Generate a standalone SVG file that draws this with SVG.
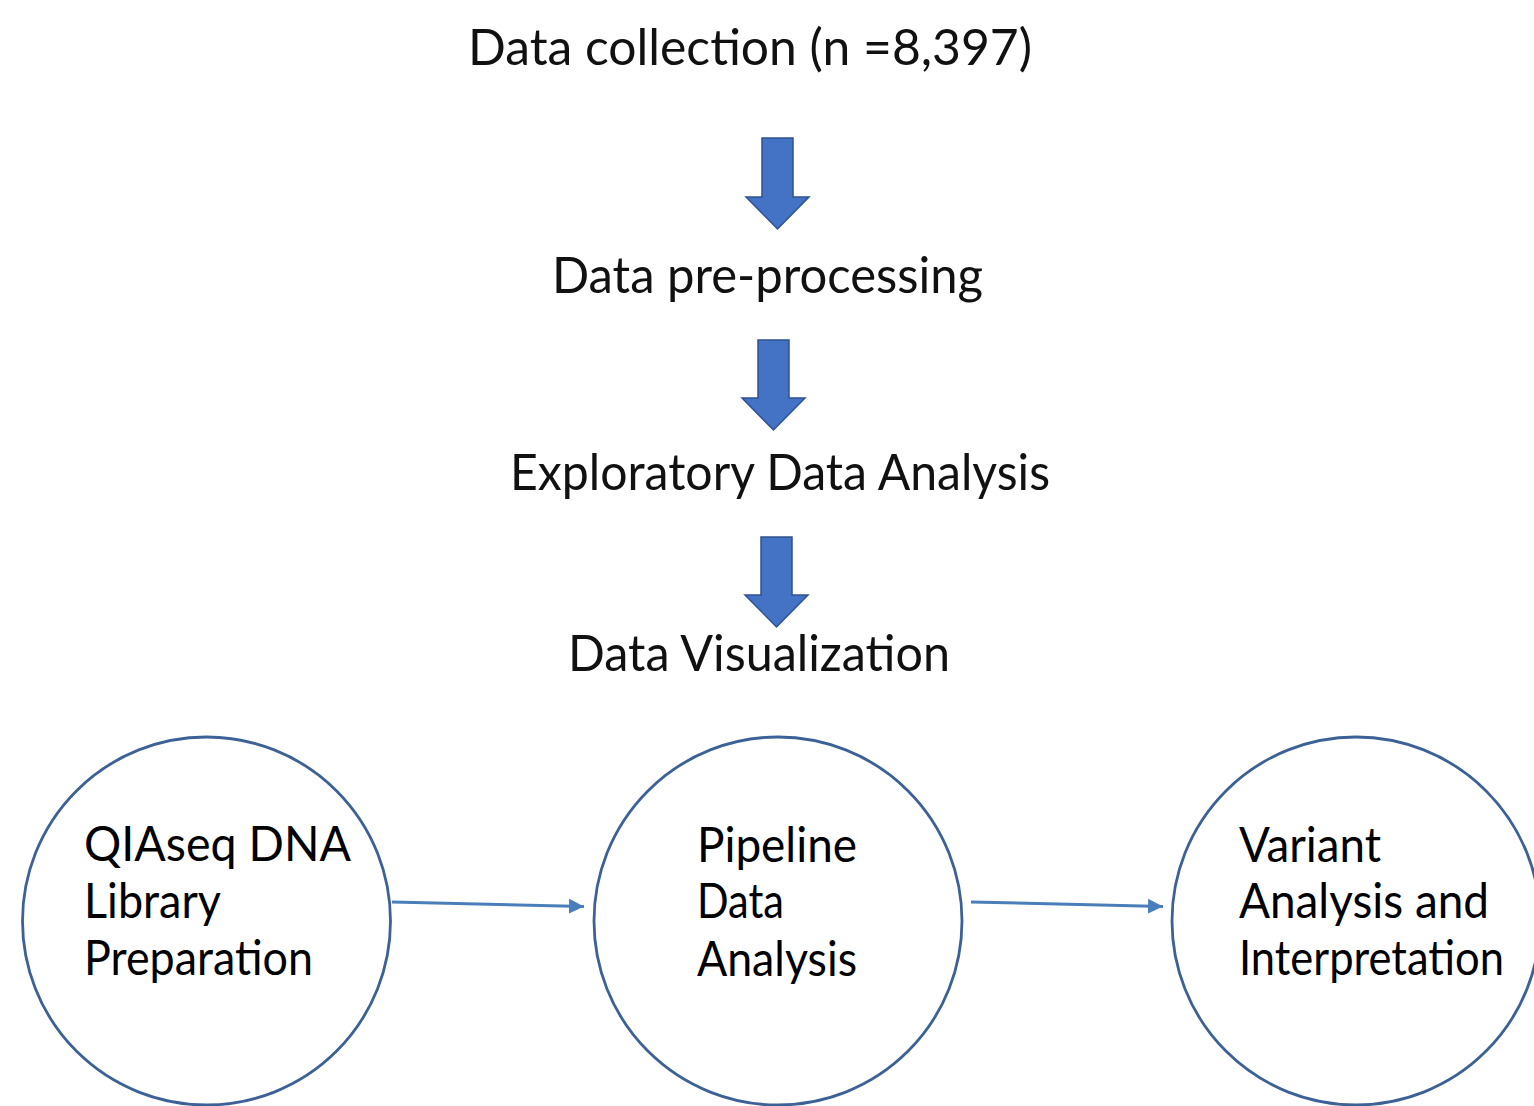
<svg xmlns="http://www.w3.org/2000/svg" width="1534" height="1106" viewBox="0 0 1534 1106">
  <style>
    .step { font-family: "Lato", "Noto Sans", "Liberation Sans", sans-serif; font-size: 50px; fill: #111111; }
    .label { font-family: "Lato", "Noto Sans", "Liberation Sans", sans-serif; font-size: 48px; fill: #000000; }
    .block { fill: #4472c4; stroke: #2f528f; stroke-width: 1.5; stroke-linejoin: miter; }
    .node { fill: #ffffff; stroke: #3c6196; stroke-width: 2.8; }
    .link { fill: none; stroke: #4a7ebb; stroke-width: 3; }
  </style>
  <defs>
    <marker id="head" viewBox="0 0 10 10" refX="10" refY="5" markerWidth="5" markerHeight="5.4" markerUnits="strokeWidth" orient="auto">
      <path d="M0,0 L10,5 L0,10 Z" fill="#4a7ebb"/>
    </marker>
  </defs>

  <rect width="1534" height="1106" fill="#ffffff"/>

  <!-- workflow steps -->
  <g id="step-collection">
    <text class="step" x="468" y="65" textLength="564" lengthAdjust="spacingAndGlyphs">Data collection (n =8,397)</text>
  </g>
  <g id="step-preprocessing">
    <text class="step" x="552" y="293" textLength="431" lengthAdjust="spacingAndGlyphs">Data pre-processing</text>
  </g>
  <g id="step-eda">
    <text class="step" x="510" y="490" textLength="540" lengthAdjust="spacingAndGlyphs">Exploratory Data Analysis</text>
  </g>
  <g id="step-visualization">
    <text class="step" x="568" y="671" textLength="382" lengthAdjust="spacingAndGlyphs">Data Visualization</text>
  </g>

  <!-- sequencing stages -->
  <g id="node-library">
    <circle class="node" cx="206.5" cy="921" r="184"/>
    <text class="label" x="84" y="861" textLength="267" lengthAdjust="spacingAndGlyphs">QIAseq DNA</text>
    <text class="label" x="84" y="918" textLength="137" lengthAdjust="spacingAndGlyphs">Library</text>
    <text class="label" x="84" y="975" textLength="229" lengthAdjust="spacingAndGlyphs">Preparation</text>
  </g>
  <g id="node-pipeline">
    <circle class="node" cx="778" cy="921" r="184"/>
    <text class="label" x="697" y="862" textLength="160" lengthAdjust="spacingAndGlyphs">Pipeline</text>
    <text class="label" x="697" y="918" textLength="87" lengthAdjust="spacingAndGlyphs">Data</text>
    <text class="label" x="697" y="976" textLength="160" lengthAdjust="spacingAndGlyphs">Analysis</text>
  </g>
  <g id="node-variant">
    <circle class="node" cx="1356" cy="921" r="184"/>
    <text class="label" x="1239" y="862" textLength="142" lengthAdjust="spacingAndGlyphs">Variant</text>
    <text class="label" x="1239" y="918" textLength="250" lengthAdjust="spacingAndGlyphs">Analysis and</text>
    <text class="label" x="1239" y="975" textLength="265" lengthAdjust="spacingAndGlyphs">Interpretation</text>
  </g>

  <!-- connectors -->
  <g id="connectors">
    <path class="block" d="M762,138 H793 V197 H809 L777.5,229 L746,197 H762 Z"/>
    <path class="block" d="M758,340 H789 V398 H805 L773.5,430 L742,398 H758 Z"/>
    <path class="block" d="M761,537 H792 V595 H808 L776.5,627 L745,595 H761 Z"/>
    <line class="link" x1="392" y1="902" x2="584" y2="906.5" marker-end="url(#head)"/>
    <line class="link" x1="971" y1="902" x2="1163" y2="906.5" marker-end="url(#head)"/>
  </g>
</svg>
